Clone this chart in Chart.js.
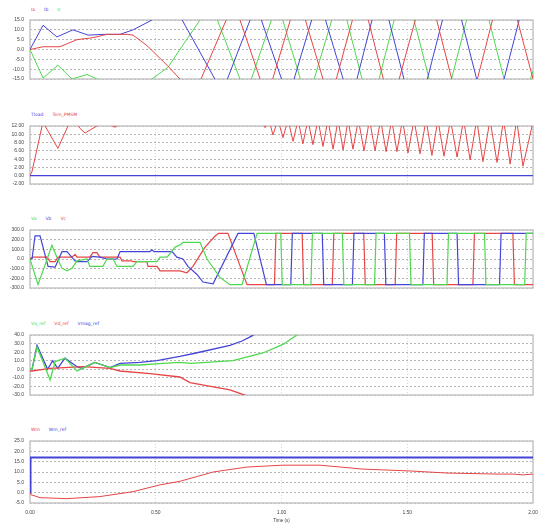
<!DOCTYPE html>
<html>
<head>
<meta charset="utf-8">
<script src="https://cdn.jsdelivr.net/npm/chart.js@4.4.1/dist/chart.umd.min.js"></script>
<style>
  body { margin: 0; background: #fff; width: 541px; height: 524px; position: relative; overflow: hidden; font-family: "DejaVu Sans", sans-serif; }
  canvas { position: absolute; left: 0; }
  .legend { position: absolute; left: 31px; font-size: 4.5px; line-height: 6px; white-space: nowrap; }
  .legend span { margin-right: 9px; }
</style>
</head>
<body>
<div class="legend" style="top:7px"><span style="color:#e64545">Ia</span><span style="color:#4444d8">Ib</span><span style="color:#4fd84f">Ic</span></div>
<canvas id="p1" width="541" height="77" style="top:11px"></canvas>
<div class="legend" style="top:112px"><span style="color:#4444d8">Tload</span><span style="color:#e64545">Tem_PMSM</span></div>
<canvas id="p2" width="541" height="76" style="top:117px"></canvas>
<div class="legend" style="top:216px"><span style="color:#4fd84f">Va</span><span style="color:#4444d8">Vb</span><span style="color:#e64545">Vc</span></div>
<canvas id="p3" width="541" height="76" style="top:221px"></canvas>
<div class="legend" style="top:321px"><span style="color:#4fd84f">Vq_ref</span><span style="color:#e64545">Vd_ref</span><span style="color:#4444d8">Vmag_ref</span></div>
<canvas id="p4" width="541" height="78" style="top:326px"></canvas>
<div class="legend" style="top:427px"><span style="color:#e64545">Wm</span><span style="color:#4444d8">Wm_ref</span></div>
<canvas id="p5" width="541" height="92" style="top:432px"></canvas>
<script>
// [time (s), value] pairs
const ia = [[0,0],[.052,1.4],[.119,1.4],[.187,5],[.25,6],[.306,7.7],[.386,7.7],[.41,7.3],[.465,2],[.545,-8],[.596,-15],[.636,-28],[.68,-15],[.78,15],[.808,28],[.835,15],[.915,-15],[.94,-28],[.965,-15],[1.035,15],[1.065,28],[1.095,15],[1.165,-15],[1.19,-28],[1.218,-15],[1.282,15],[1.313,28],[1.345,15],[1.405,-15],[1.436,-28],[1.468,-15],[1.532,15],[1.575,28],[1.617,15],[1.677,-15],[1.728,-28],[1.779,-15],[1.839,15],[1.888,28],[1.938,15],[2.0,-15]];
const ib = [[0,0],[.052,12.3],[.107,6.4],[.171,10],[.231,7.3],[.29,7.7],[.358,7.7],[.41,10],[.485,15],[.545,24],[.605,15],[.735,-15],[.76,-28],[.785,-15],[.875,15],[.897,28],[.92,15],[1.0,-15],[1.025,-28],[1.05,-15],[1.12,15],[1.147,28],[1.175,15],[1.245,-15],[1.272,-28],[1.3,-15],[1.36,15],[1.393,28],[1.427,15],[1.487,-15],[1.533,-28],[1.58,-15],[1.64,15],[1.678,28],[1.716,15],[1.776,-15],[1.83,-28],[1.885,-15],[1.945,15],[1.975,28],[2.0,24]];
const ic = [[0,0],[.052,-14.5],[.111,-8],[.167,-15],[.227,-12.7],[.266,-15],[.37,-22],[.485,-15],[.549,-9],[.596,0],[.676,15],[.71,28],[.745,15],[.835,-15],[.858,-28],[.88,-15],[.96,15],[.983,28],[1.005,15],[1.075,-15],[1.103,-28],[1.13,-15],[1.2,15],[1.23,28],[1.26,15],[1.32,-15],[1.354,-28],[1.388,-15],[1.448,15],[1.488,28],[1.527,15],[1.587,-15],[1.632,-28],[1.676,-15],[1.736,15],[1.78,28],[1.825,15],[1.885,-15],[1.94,-28],[1.99,-15],[2.0,-11]];

const tload = [[0,0],[2,0]];
const tem = [[0,0],[.008,1],[.048,12],[.054,12.8],[.06,12],[.111,6.6],[.151,12],[.175,13.5],[.199,11.4],[.219,10.3],[.266,12],[.3,12.8],[.338,11.7],[.36,12.6],[.6,14],[.92,13],[.935,11.6],[.95,13.5],
  [.966,9.85],[.986,13.5],[1.006,9.2],[1.026,13.5],[1.046,8.3],[1.066,13.5],[1.085,7.7],[1.105,13.5],[1.125,7.5],[1.145,13.5],[1.165,7.05],[1.185,13.5],[1.205,6.4],[1.225,13.5],[1.245,6.2],[1.265,13.5],[1.284,6.4],[1.306,13.5],[1.328,6.0],[1.35,13.5],[1.372,6.0],[1.394,13.5],[1.416,5.8],[1.438,13.5],[1.459,5.8],[1.481,13.5],[1.503,5.5],[1.527,13.5],[1.551,5.3],[1.575,13.5],[1.598,4.9],[1.622,13.5],[1.646,4.7],[1.672,13.5],[1.698,4.5],[1.724,13.5],[1.75,3.8],[1.776,13.5],[1.801,3.4],[1.829,13.5],[1.857,3.2],[1.883,13.5],[1.909,2.8],[1.935,13.5],[1.96,2.3],[2.0,13]];

const va = [[0,0],[.032,-266],[.072,28],[.087,143],[.107,19],[.127,-95],[.147,-123],[.167,-95],[.187,-19],[.227,0],[.238,-76],[.29,-76],[.306,0],[.33,0],[.346,-76],[.41,-76],[.425,-28],[.505,-28],[.517,19],[.545,19],[.577,123],[.6,150],[.608,171],[.676,171],[.704,0],[.755,-190],[.795,-265],[.843,-265],[.903,265],[.997,265],[1.003,-265],[1.117,-265],[1.123,265],[1.242,265],[1.248,-265],[1.37,-265],[1.376,265],[1.509,265],[1.515,-265],[1.658,-265],[1.664,265],[1.807,265],[1.813,-265],[1.967,-265],[1.973,265],[2.0,265]];
const vb = [[0,0],[.008,0],[.02,240],[.04,240],[.072,-76],[.1,-85],[.127,76],[.147,76],[.179,-19],[.187,-28],[.227,-28],[.247,28],[.278,19],[.306,0],[.346,0],[.358,76],[.477,76],[.485,95],[.493,76],[.565,76],[.584,19],[.608,0],[.628,-76],[.664,-160],[.688,-238],[.728,-256],[.827,265],[.89,265],[.94,-265],[1.037,-265],[1.043,265],[1.162,265],[1.168,-265],[1.282,-265],[1.288,265],[1.409,265],[1.415,-265],[1.562,-265],[1.568,265],[1.698,265],[1.704,-265],[1.867,-265],[1.873,265],[2.0,265]];
const vc = [[0,0],[.012,19],[.068,19],[.08,-28],[.1,-28],[.111,19],[.167,19],[.179,48],[.187,19],[.238,19],[.25,66],[.266,66],[.278,19],[.358,19],[.366,-19],[.405,-19],[.41,-28],[.465,-28],[.469,-76],[.505,-76],[.517,-123],[.596,-123],[.624,-142],[.648,-76],[.696,123],[.736,238],[.75,265],[.787,265],[.863,-265],[.972,-265],[.978,265],[1.082,265],[1.088,-265],[1.202,-265],[1.208,265],[1.327,265],[1.333,-265],[1.452,-265],[1.458,265],[1.599,265],[1.605,-265],[1.761,-265],[1.767,265],[1.92,265],[1.926,-265],[2.0,-265]];

const vqRef = [[0,0],[.008,0],[.028,26],[.08,-12.5],[.1,9],[.139,13],[.187,-2],[.207,1],[.258,8],[.318,2],[.36,5],[.437,5],[.529,7],[.596,8],[.64,7],[.807,10],[.926,19],[1.006,29],[1.054,38.5],[1.07,42]];
const vdRef = [[0,-2],[.008,-2],[.08,1],[.211,3],[.318,1],[.358,-2],[.477,-5],[.596,-9],[.636,-15.6],[.795,-24],[.843,-29],[.87,-32]];
const vmagRef = [[0,0],[.008,0],[.028,28],[.07,0],[.09,10],[.11,1],[.139,13],[.187,3],[.207,1],[.258,8],[.318,2],[.358,7],[.437,8],[.505,10],[.596,15],[.66,19],[.795,28],[.843,33],[.883,39],[.895,42]];

const wm = [[0,0],[.004,-1],[.04,-2.4],[.147,-2.9],[.278,-1.9],[.41,0.5],[.517,3.8],[.596,5.5],[.728,10],[.863,12.4],[1.006,13.3],[1.153,13.3],[1.324,11.4],[1.511,10.5],[1.658,9.5],[1.857,9],[1.92,9],[1.96,8.6],[2.0,9]];
const wmRef = [[0,0],[.002,17],[2,17]];

const xTicks = [0, 0.5, 1, 1.5, 2];

const RED = '#e64545', BLUE = '#4444d8', GREEN = '#4fd84f';
const pts = a => a.map(([x, y]) => ({ x, y }));

const frame = {
  id: 'frame',
  beforeDatasetsDraw(chart) {
    const { ctx, chartArea: a } = chart;
    ctx.save();
    ctx.strokeStyle = '#c6c6c6';
    ctx.lineWidth = 1.5;
    ctx.strokeRect(a.left, a.top, a.right - a.left, a.bottom - a.top);
    ctx.restore();
  }
};

function panel(id, series, y, last) {
  return new Chart(document.getElementById(id), {
    type: 'line',
    data: {
      datasets: series.map(s => ({
        label: s.label,
        data: pts(s.data),
        borderColor: s.color,
        borderWidth: s.width || 1,
        pointRadius: 0,
        tension: 0
      }))
    },
    options: {
      responsive: false,
      animation: false,
      events: [],
      layout: { padding: { top: 5, right: 8, bottom: last ? 0 : 5, left: 0 } },
      plugins: { legend: { display: false }, tooltip: { enabled: false } },
      scales: {
        x: {
          type: 'linear', min: 0, max: 2,
          afterBuildTicks: s => { s.ticks = xTicks.map(v => ({ value: v })); },
          ticks: { display: !!last, padding: 7, color: '#444', font: { size: 5 }, callback: v => v.toFixed(2) },
          grid: { color: '#d6d6d6', drawTicks: false },
          border: { display: false, dash: [1, 2] },
          title: { display: !!last, text: 'Time (s)', color: '#444', font: { size: 4.5 }, padding: { top: 0, bottom: 1 } },
          afterFit: s => { s.height = last ? 21 : 0; s.paddingLeft = 0; s.paddingRight = 0; }
        },
        y: {
          min: y.min, max: y.max,
          ticks: { stepSize: y.step, padding: 6, color: '#444', font: { size: 5 }, callback: v => v.toFixed(y.dec) },
          grid: { color: '#b4b4b4', drawTicks: false },
          border: { display: false, dash: [2, 2] },
          afterFit: s => { s.width = 30; }
        }
      }
    },
    plugins: [frame]
  });
}

panel('p1', [
  { label: 'Ia', data: ia, color: RED },
  { label: 'Ib', data: ib, color: BLUE },
  { label: 'Ic', data: ic, color: GREEN }
], { min: -15, max: 15, step: 5, dec: 1 });

panel('p2', [
  { label: 'Tload', data: tload, color: BLUE, width: 1.3 },
  { label: 'Tem_PMSM', data: tem, color: RED }
], { min: -2, max: 12, step: 2, dec: 2 });

panel('p3', [
  { label: 'Va', data: va, color: GREEN, width: 1.2 },
  { label: 'Vb', data: vb, color: BLUE, width: 1.2 },
  { label: 'Vc', data: vc, color: RED, width: 1.2 }
], { min: -300, max: 300, step: 100, dec: 1 });

panel('p4', [
  { label: 'Vq_ref', data: vqRef, color: GREEN, width: 1.3 },
  { label: 'Vd_ref', data: vdRef, color: RED, width: 1.3 },
  { label: 'Vmag_ref', data: vmagRef, color: BLUE, width: 1.3 }
], { min: -30, max: 40, step: 10, dec: 1 });

panel('p5', [
  { label: 'Wm', data: wm, color: RED },
  { label: 'Wm_ref', data: wmRef, color: BLUE, width: 2 }
], { min: -5, max: 25, step: 5, dec: 1 }, true);
</script>
</body>
</html>
